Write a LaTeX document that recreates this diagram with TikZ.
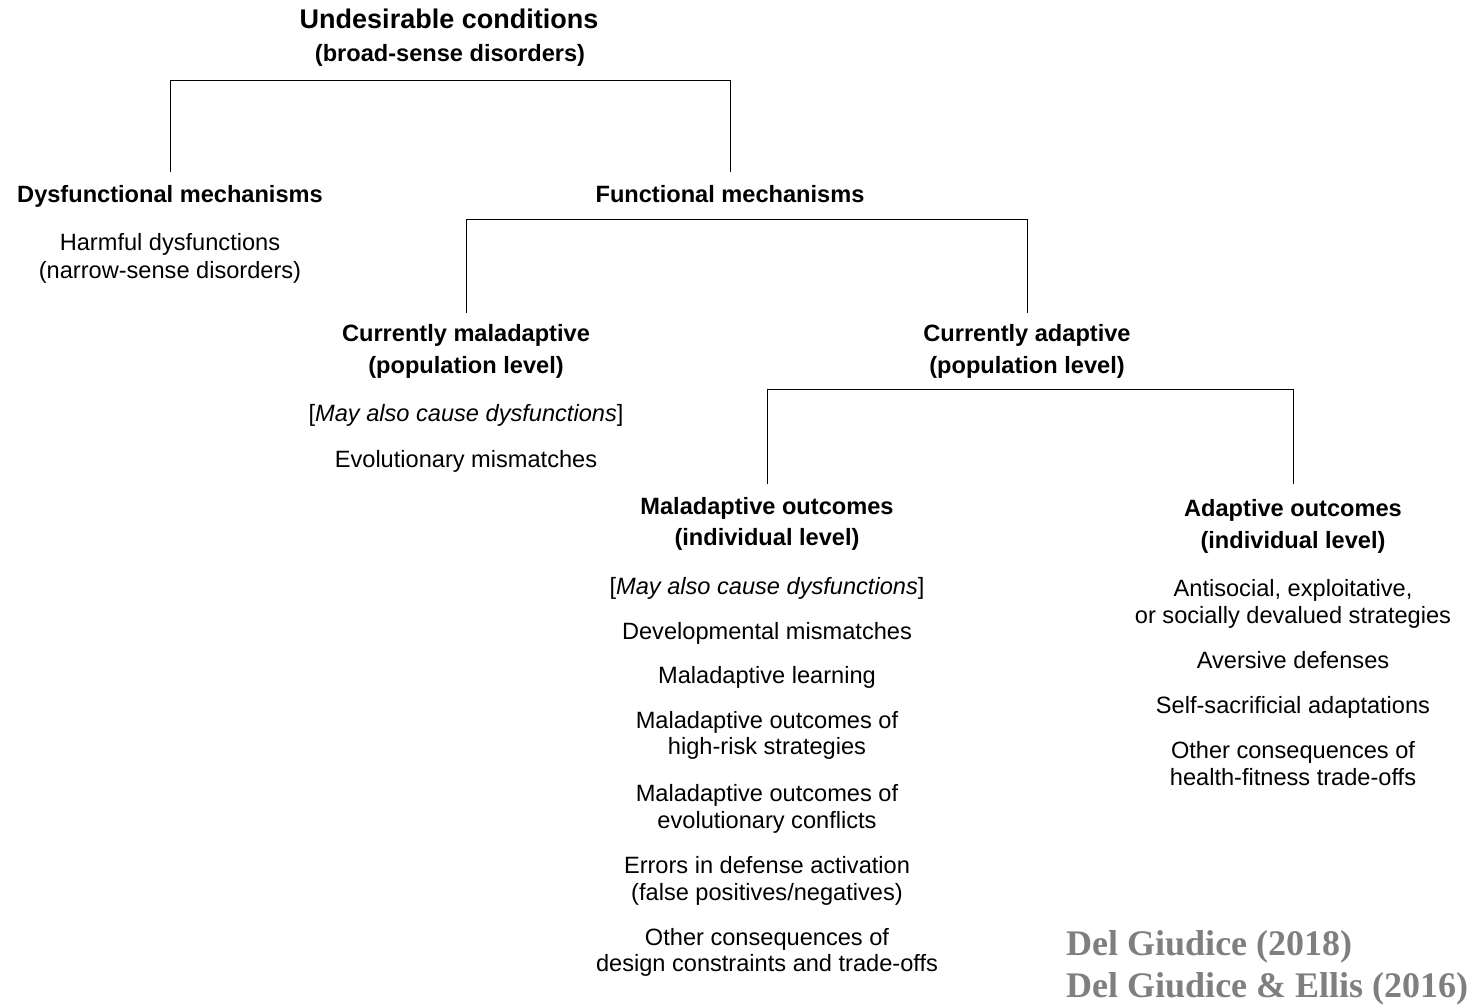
\documentclass[tikz,border=0pt]{standalone}
\usepackage{fontspec}
\setmainfont{Liberation Sans}
\newfontfamily\citefont{Liberation Serif}
\definecolor{citegray}{HTML}{7F7F7F}
\begin{document}
\begin{tikzpicture}[x=1pt,y=-1pt,
  lbl/.style={inner sep=0pt,text height=17pt,text depth=0pt,anchor=center,font=\fontsize{23.6}{27}\selectfont},
  head/.style={lbl,font=\fontsize{23.6}{27}\selectfont\bfseries},
  title/.style={inner sep=0pt,text height=19.5pt,text depth=0pt,anchor=center,font=\fontsize{27}{31}\selectfont\bfseries},
  cite/.style={inner sep=0pt,anchor=base west,text=citegray,font=\fontsize{36}{41}\selectfont\citefont\bfseries},
  conn/.style={draw=black,line width=1pt}]
\useasboundingbox (0,0) rectangle (1478,1008);
% level 0
\node[title] (uc1) at (449,19) {Undesirable conditions};
\node[head] (uc2) at (450,53) {(broad-sense disorders)};
% level 1
\node[head] (dys) at (170,194) {Dysfunctional mechanisms};
\node[lbl] (dys1) at (170,242) {Harmful dysfunctions};
\node[lbl] (dys2) at (170,270) {(narrow-sense disorders)};
\node[head] (fun) at (730,194) {Functional mechanisms};
% level 2
\node[head] (cm1) at (466,333) {Currently maladaptive};
\node[head] (cm2) at (466,365) {(population level)};
\node[lbl] (cm3) at (466,413) {[\textit{May also cause dysfunctions}]};
\node[lbl] (cm4) at (466,459) {Evolutionary mismatches};
\node[head] (ca1) at (1027,333) {Currently adaptive};
\node[head] (ca2) at (1027,365) {(population level)};
% level 3 left
\node[head] (mo1) at (767,506) {Maladaptive outcomes};
\node[head] (mo2) at (767,537) {(individual level)};
\node[lbl] (mo3) at (767,586) {[\textit{May also cause dysfunctions}]};
\node[lbl] (mo4) at (767,631) {Developmental mismatches};
\node[lbl] (mo5) at (767,675) {Maladaptive learning};
\node[lbl] (mo6) at (767,720) {Maladaptive outcomes of};
\node[lbl] (mo7) at (767,746) {high-risk strategies};
\node[lbl] (mo8) at (767,793) {Maladaptive outcomes of};
\node[lbl] (mo9) at (767,820) {evolutionary conflicts};
\node[lbl] (mo10) at (767,865) {Errors in defense activation};
\node[lbl] (mo11) at (767,892) {(false positives/negatives)};
\node[lbl] (mo12) at (767,937) {Other consequences of};
\node[lbl] (mo13) at (767,963) {design constraints and trade-offs};
% level 3 right
\node[head] (ao1) at (1293,508) {Adaptive outcomes};
\node[head] (ao2) at (1293,540) {(individual level)};
\node[lbl] (ao3) at (1293,588) {Antisocial, exploitative,};
\node[lbl] (ao4) at (1293,615) {or socially devalued strategies};
\node[lbl] (ao5) at (1293,660) {Aversive defenses};
\node[lbl] (ao6) at (1293,705) {Self-sacrificial adaptations};
\node[lbl] (ao7) at (1293,750) {Other consequences of};
\node[lbl] (ao8) at (1293,777) {health-fitness trade-offs};
% citation
\node[cite] (ref1) at (1066,955) {Del Giudice (2018)};
\node[cite] (ref2) at (1066,997) {Del Giudice \& Ellis (2016)};
% connectors
\draw[conn] ([yshift=13.5pt]dys.north) |- ([yshift=-18.5pt]uc2.south) -| ([yshift=13.5pt]fun.north);
\draw[conn] ([yshift=11.5pt]cm1.north) |- ([yshift=-16.5pt]fun.south) -| ([yshift=11.5pt]ca1.north);
\draw[conn] ([yshift=13.5pt]mo1.north) |- ([yshift=-15.5pt]ca2.south) -| ([yshift=15.5pt]ao1.north);
\end{tikzpicture}
\end{document}
